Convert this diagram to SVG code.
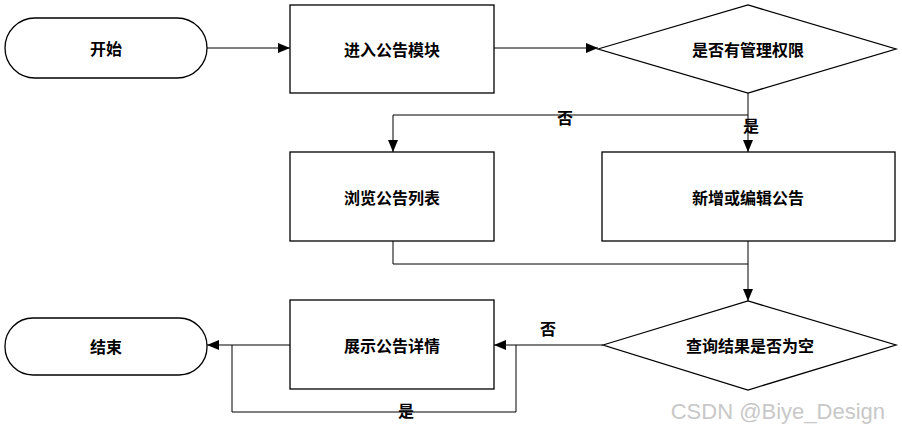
<svg xmlns="http://www.w3.org/2000/svg" width="902" height="434" viewBox="0 0 902 434">
<style>
.s{fill:#fff;stroke:#000;stroke-width:1.3}
.t{font-family:"Noto Sans CJK SC",sans-serif;font-size:16px;font-weight:bold;text-anchor:middle;dominant-baseline:central;fill:#000}
.c{fill:none;stroke:#000;stroke-width:1}
</style>
<defs><marker id="a" markerWidth="12" markerHeight="10" refX="12" refY="5" orient="auto" markerUnits="userSpaceOnUse"><path d="M0,0L12,5L0,10z" fill="#000"/></marker></defs>
<rect width="902" height="434" fill="#fff"/>
<g id="connectors">
<path class="c" d="M207,48H290" marker-end="url(#a)"/>
<path class="c" d="M494,48H598" marker-end="url(#a)"/>
<path class="c" d="M748,93V115H393V152" marker-end="url(#a)"/>
<path class="c" d="M748,115V152" marker-end="url(#a)"/>
<path class="c" d="M393,241V264H748"/>
<path class="c" d="M748,241V301" marker-end="url(#a)"/>
<path class="c" d="M603,345H494" marker-end="url(#a)"/>
<path class="c" d="M290,345H207" marker-end="url(#a)"/>
<path class="c" d="M232,345V412H516V345"/>
<text class="t" x="565" y="117">否</text>
<text class="t" x="751" y="125">是</text>
<text class="t" x="548" y="328">否</text>
<text class="t" x="406" y="410">是</text>
</g>
<g id="start"><rect class="s" x="5" y="18" width="202" height="60" rx="30"/><text class="t" x="106" y="48">开始</text></g>
<g id="enter"><rect class="s" x="290" y="5" width="204" height="88"/><text class="t" x="392" y="49">进入公告模块</text></g>
<g id="perm"><polygon class="s" points="598,49 748,5 896,49 748,93"/><text class="t" x="748" y="49">是否有管理权限</text></g>
<g id="browse"><rect class="s" x="290" y="152" width="204" height="89"/><text class="t" x="392" y="197">浏览公告列表</text></g>
<g id="edit"><rect class="s" x="602" y="152" width="293" height="89"/><text class="t" x="748" y="197">新增或编辑公告</text></g>
<g id="query"><polygon class="s" points="603,345 748,301 896,345 748,390"/><text class="t" x="750" y="345">查询结果是否为空</text></g>
<g id="detail"><rect class="s" x="290" y="300" width="204" height="89"/><text class="t" x="392" y="345">展示公告详情</text></g>
<g id="end"><rect class="s" x="5" y="318" width="202" height="57" rx="28"/><text class="t" x="106" y="346">结束</text></g>
<text x="885" y="411" font-family="Liberation Sans,sans-serif" font-size="22" fill="#c8c8c8" text-anchor="end" dominant-baseline="central">CSDN @Biye_Design</text>
</svg>
